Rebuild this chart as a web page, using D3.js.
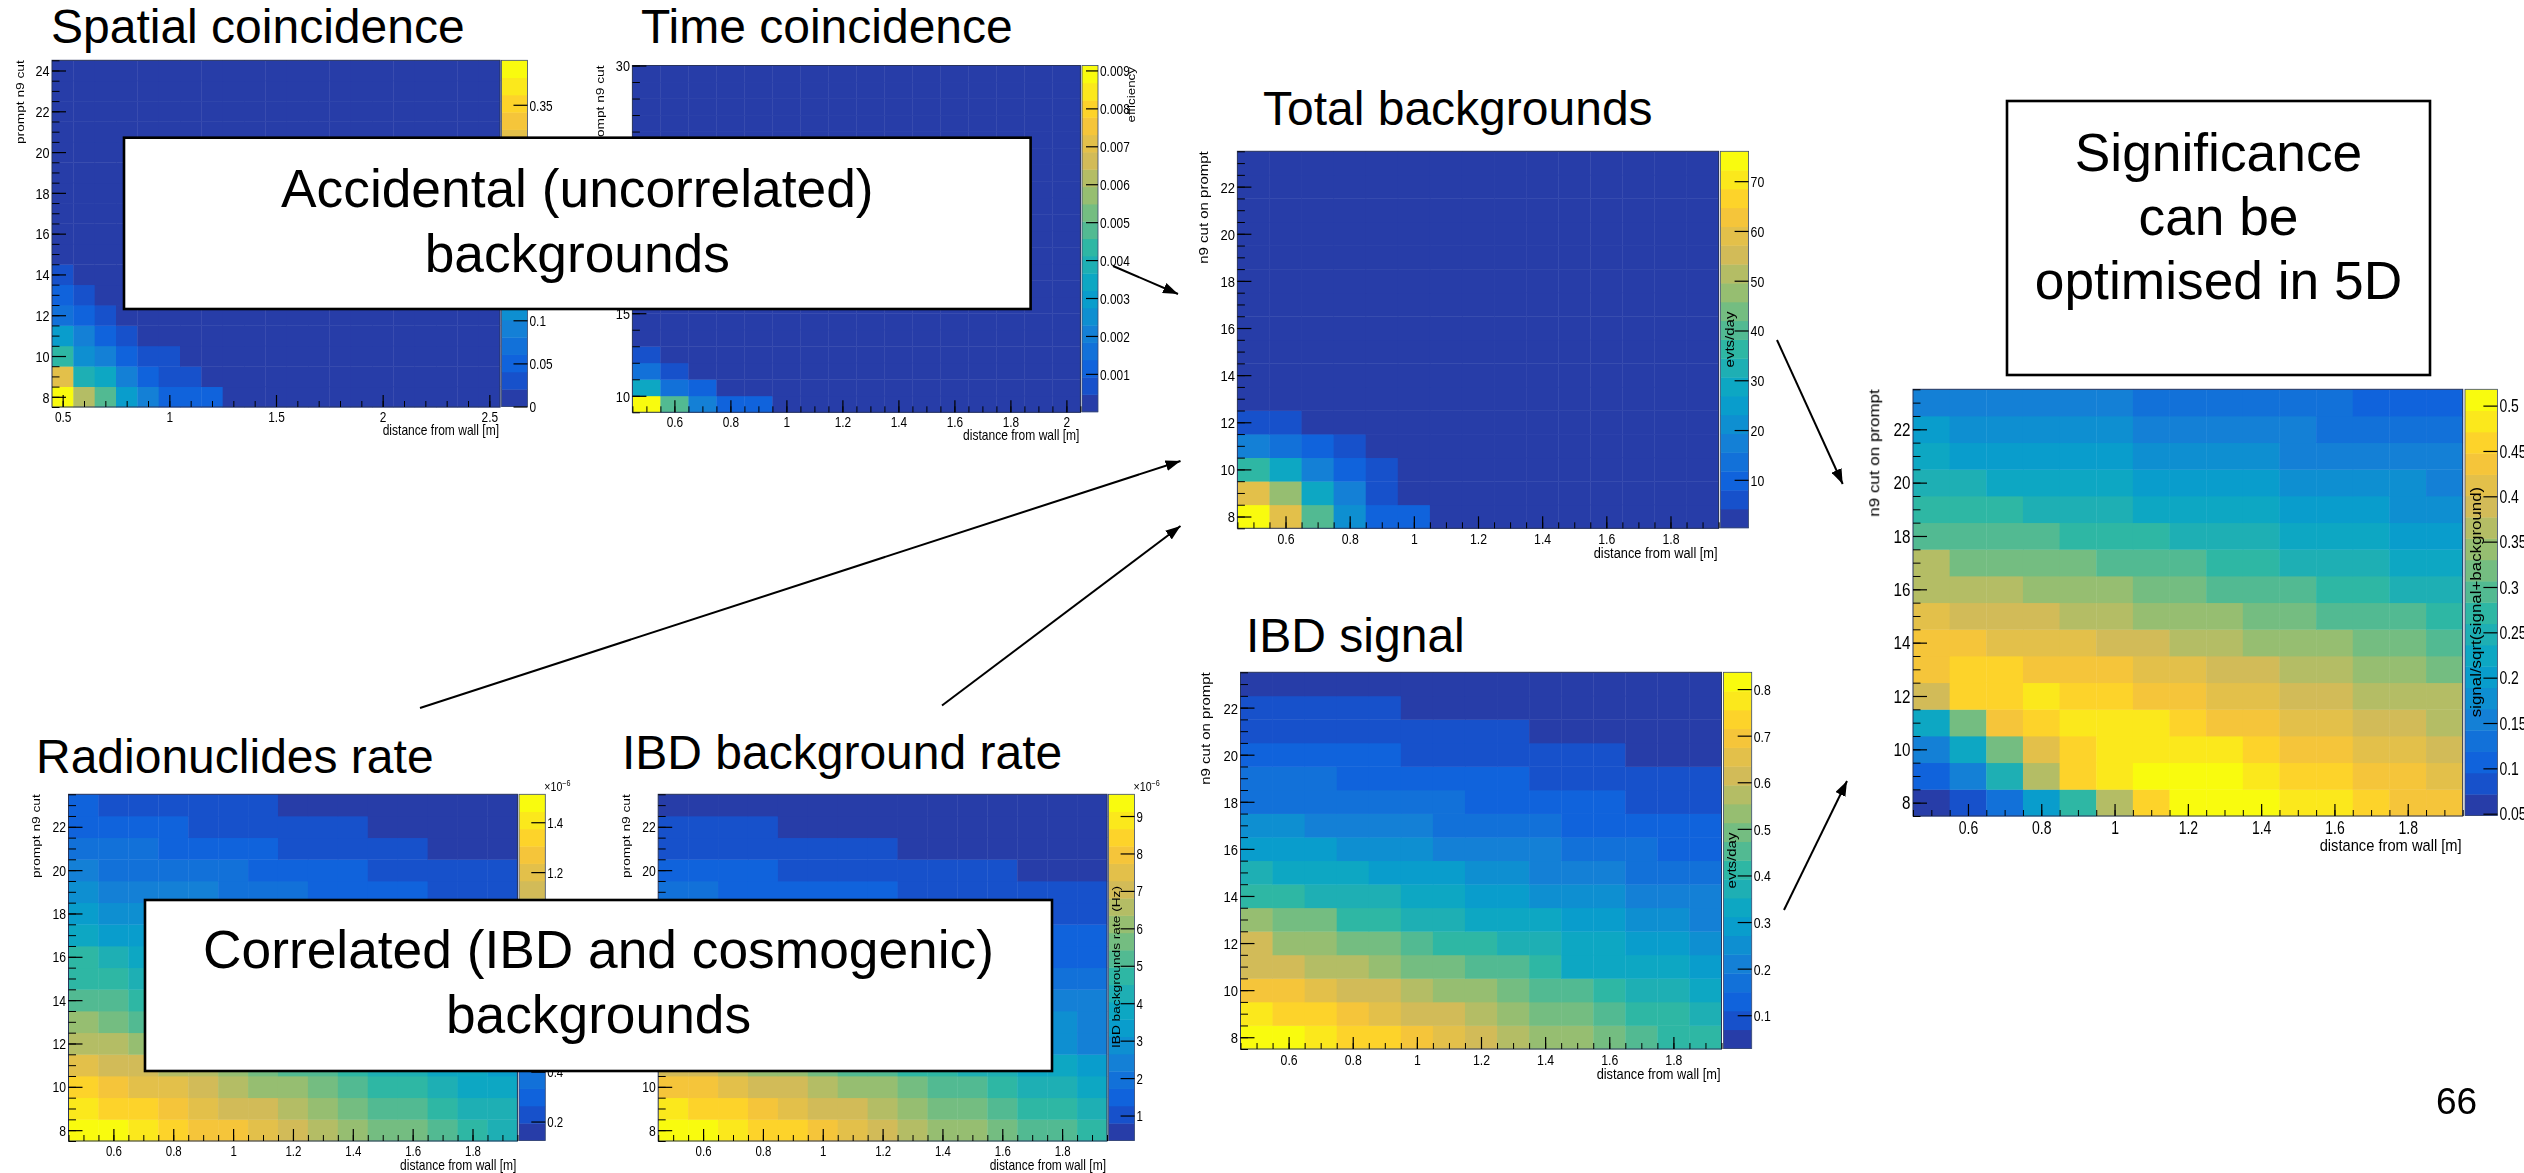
<!DOCTYPE html>
<html>
<head>
<meta charset="utf-8">
<script src="https://cdnjs.cloudflare.com/ajax/libs/d3/7.8.5/d3.min.js"></script>
<style>
html,body{margin:0;padding:0;background:#fff;overflow:hidden}
svg{display:block}
text{font-family:"Liberation Sans",Arial,sans-serif;fill:#000}
.panel{filter:blur(0.35px)}
</style>
</head>
<body>
<svg id="c" width="2524" height="1173"></svg>
<script>
// ---- bins -----
const xBins15 = [0.5,0.6,0.7,0.8,0.9,1.0,1.1,1.2,1.3,1.4,1.5,1.6,1.7,1.8,1.9];
const yBins16 = [8,9,10,11,12,13,14,15,16,17,18,19,20,21,22,23];
const xBinsSpatial = [0.5,0.6,0.7,0.8,0.9,1.0,1.1,1.2,1.3,1.4,1.5,1.6,1.7,1.8,1.9,2.0,2.1,2.2,2.3,2.4,2.5];
const yBinsSpatial = [8,9,10,11,12,13,14,15,16,17,18,19,20,21,22,23,24];
const xBinsTime = [0.5,0.6,0.7,0.8,0.9,1.0,1.1,1.2,1.3,1.4,1.5,1.6,1.7,1.8,1.9,2.0];
const yBinsTime = [9.5,10.5,11.5,12.5,13.5,14.5,15.5,16.5,17.5,18.5,19.5,20.5,21.5,22.5,23.5,24.5,25.5,26.5,27.5,28.5,29.5];

// ---- values: rows from lowest prompt cut upward; bins not listed are empty -----
const spatialValues = [
 [.39,.27,.21,.13,.09,.05,.05,.05],
 [.31,.17,.15,.09,.05,.03,.03],
 [.19,.11,.09,.05,.03,.03],
 [.13,.09,.05,.03],
 [.07,.05,.03],
 [.05,.03],
 [.03]
];
const timeValues = [
 [.0089,.0048,.00205,.00114,.00095],
 [.0034,.0016,.00095],
 [.0016,.0008],
 [.0007]
];
const totalValues = [
 [74.1,59,40,21.2,9.8,8],
 [59,47.6,28.7,17.4,6],
 [38,28.7,17.4,9.8,6],
 [17.4,13.6,9.8,6],
 [6,6]
];
const signalValues = [
 [.815,.815,.77,.73,.73,.69,.65,.61,.57,.53,.53,.49,.45,.41,.41],
 [.77,.73,.73,.69,.65,.61,.61,.57,.53,.49,.49,.45,.41,.41,.37],
 [.69,.69,.65,.61,.61,.57,.53,.53,.49,.45,.45,.41,.37,.37,.33],
 [.61,.61,.57,.57,.53,.49,.49,.45,.45,.41,.33,.33,.33,.33,.29],
 [.61,.53,.53,.49,.49,.45,.41,.41,.37,.37,.33,.33,.29,.29,.25],
 [.53,.49,.49,.41,.41,.37,.37,.33,.33,.33,.29,.29,.25,.25,.21],
 [.41,.41,.37,.37,.37,.33,.33,.29,.29,.25,.25,.25,.21,.21,.21],
 [.37,.33,.33,.33,.29,.29,.29,.25,.25,.21,.21,.21,.17,.17,.17],
 [.29,.29,.29,.25,.25,.25,.21,.21,.21,.21,.17,.17,.17,.13,.13],
 [.25,.25,.21,.21,.21,.21,.17,.17,.17,.17,.13,.13,.13,.13,.13],
 [.17,.17,.17,.17,.17,.17,.17,.13,.13,.13,.13,.13,.089,.089,.089],
 [.17,.17,.17,.13,.13,.13,.13,.13,.13,.089,.089,.089,.089,.089,.089],
 [.13,.13,.13,.13,.13,.089,.089,.089,.089,.089,.089,.089,.049,.049,.049],
 [.089,.089,.089,.089,.089,.089,.089,.089,.089,.049,.049,.049,.049,.049,.049],
 [.089,.089,.089,.089,.089,.049,.049,.049,.049,.049,.049,.049,.049,.049,.049],
 [.049,.049,.049,.049,.049,.049,.049,.049,.049,.049,.049,.049,.049,.049,.049]
];
const significanceValues = [
 [.06,.083,.13,.201,.271,.365,.459,.506,.506,.506,.483,.483,.459,.436,.436],
 [.107,.154,.248,.365,.459,.483,.506,.506,.506,.483,.459,.459,.436,.436,.412],
 [.154,.224,.318,.412,.459,.483,.483,.483,.483,.459,.436,.436,.412,.412,.389],
 [.224,.318,.436,.459,.483,.483,.483,.459,.436,.436,.412,.412,.389,.389,.365],
 [.389,.459,.459,.483,.459,.459,.436,.436,.412,.412,.389,.389,.365,.365,.365],
 [.436,.459,.459,.436,.436,.436,.412,.412,.389,.389,.365,.365,.342,.342,.318],
 [.436,.436,.412,.412,.412,.389,.389,.365,.365,.342,.342,.342,.318,.318,.295],
 [.412,.389,.389,.389,.365,.365,.342,.342,.342,.318,.318,.295,.295,.295,.271],
 [.365,.365,.365,.342,.342,.342,.318,.318,.295,.295,.295,.271,.271,.248,.248],
 [.365,.318,.318,.318,.318,.295,.295,.295,.271,.271,.248,.248,.248,.224,.224],
 [.295,.295,.295,.295,.271,.271,.271,.248,.248,.248,.224,.224,.224,.201,.201],
 [.271,.271,.271,.248,.248,.248,.224,.224,.224,.224,.201,.201,.201,.177,.177],
 [.248,.248,.224,.224,.224,.224,.201,.201,.201,.201,.177,.177,.177,.177,.154],
 [.224,.201,.201,.201,.201,.201,.177,.177,.177,.177,.154,.154,.154,.154,.154],
 [.201,.177,.177,.177,.177,.177,.154,.154,.154,.154,.154,.13,.13,.13,.13],
 [.154,.154,.154,.154,.154,.154,.13,.13,.13,.13,.13,.13,.107,.107,.107]
];
const radionuclideValues = [
 [1.48,1.48,1.41,1.34,1.27,1.27,1.2,1.13,1.06,.991,.922,.922,.853,.783,.714],
 [1.41,1.34,1.34,1.27,1.2,1.13,1.13,1.06,.991,.922,.853,.853,.783,.714,.714],
 [1.34,1.27,1.2,1.2,1.13,1.06,.991,.991,.922,.853,.783,.783,.714,.644,.644],
 [1.2,1.13,1.13,1.06,1.06,.991,.922,.853,.853,.783,.714,.714,.644,.644,.575],
 [1.06,1.06,.991,.922,.922,.853,.783,.783,.714,.714,.644,.644,.575,.575,.506],
 [.991,.922,.853,.853,.783,.783,.714,.714,.644,.644,.575,.575,.506,.506,.436],
 [.853,.853,.783,.783,.714,.714,.644,.644,.575,.575,.506,.506,.436,.436,.367],
 [.783,.783,.714,.714,.644,.644,.575,.575,.506,.506,.436,.436,.367,.367,.367],
 [.783,.714,.644,.644,.575,.575,.506,.506,.436,.436,.436,.367,.367,.367,.297],
 [.644,.575,.575,.506,.506,.506,.436,.436,.436,.367,.367,.367,.297,.297,.297],
 [.575,.506,.506,.436,.436,.436,.436,.367,.367,.367,.297,.297,.297,.297,.228],
 [.506,.436,.436,.436,.436,.367,.367,.367,.297,.297,.297,.297,.228,.228,.228],
 [.436,.367,.367,.367,.367,.367,.297,.297,.297,.297,.228,.228,.228,.228,.228],
 [.367,.367,.367,.297,.297,.297,.297,.228,.228,.228,.228,.228,.159,.159,.159],
 [.297,.297,.297,.297,.228,.228,.228,.228,.228,.228,.159,.159,.159,.159,.159],
 [.297,.228,.228,.228,.228,.228,.228,.159,.159,.159,.159,.159,.159,.159,.159]
];
const ibdBackgroundValues = [
 [9.35,9.35,8.89,8.43,8.43,7.96,7.5,7.04,6.58,6.11,6.11,5.65,5.19,5.19,4.73],
 [8.89,8.43,8.43,7.96,7.5,7.04,7.04,6.58,6.11,5.65,5.65,5.19,4.73,4.73,4.26],
 [7.96,7.96,7.5,7.04,7.04,6.58,6.11,6.11,5.65,5.19,5.19,4.73,4.26,4.26,3.8],
 [7.04,7.04,6.58,6.11,6.11,5.65,5.19,5.19,4.73,4.73,4.26,4.26,3.8,3.8,3.34],
 [6.11,6.11,5.65,5.19,5.19,4.73,4.73,4.26,4.26,3.8,3.8,3.34,3.34,2.88,2.41],
 [5.19,5.19,4.73,4.73,4.26,4.26,3.8,3.8,3.34,3.34,3.34,2.88,2.88,2.88,2.41],
 [4.26,4.26,3.8,3.8,3.34,3.34,3.34,2.88,2.88,2.88,2.41,2.41,2.41,2.41,2.41],
 [3.8,3.34,3.34,2.88,2.88,2.88,2.88,2.41,2.41,2.41,1.95,1.95,1.95,1.95,1.95],
 [2.88,2.88,2.88,2.41,2.41,2.41,2.41,1.95,1.95,1.95,1.95,1.95,1.49,1.49,1.49],
 [2.41,2.41,1.95,1.95,1.95,1.95,1.95,1.95,1.49,1.49,1.49,1.49,1.49,1.49,1.49],
 [1.95,1.95,1.95,1.49,1.49,1.49,1.49,1.49,1.03,1.03,1.03,1.03,1.03,1.03,1.03],
 [1.95,1.95,1.49,1.49,1.49,1.49,1.49,1.49,1.03,1.03,1.03,1.03,1.03,1.03,1.03],
 [1.49,1.49,1.49,1.49,1.03,1.03,1.03,1.03,1.03,1.03,1.03,1.03,.564,.564,.564],
 [1.03,1.03,1.03,1.03,1.03,1.03,1.03,1.03,.564,.564,.564,.564,.564,.564,.564],
 [1.03,1.03,1.03,1.03,.564,.564,.564,.564,.564,.564,.564,.564,.564,.564,.564],
 [.564,.564,.564,.564,.564,.564,.564,.564,.564,.564,.564,.564,.564,.564,.564]
];

// ---- tick labels (those a text box covers in the slide are left out) -----
const xTicks02 = [0.6,0.8,1,1.2,1.4,1.6,1.8];
const xTicksTime = [0.6,0.8,1,1.2,1.4,1.6,1.8,2];
const xTicksSpatial = [0.5,1,1.5,2,2.5];
const yTicksEven = [8,10,12,14,16,18,20,22];
const yTicksIbd = [8,10,20,22];
const yTicksSpatial = [8,10,12,14,16,18,20,22,24];
const yTicksTime = [10,15,30];
const zTicksSpatial = [0,.05,.1,.35];
const zTicksTime = [.001,.002,.003,.004,.005,.006,.007,.008,.009];
const zTicksTotal = [10,20,30,40,50,60,70];
const zTicksSignal = [.1,.2,.3,.4,.5,.6,.7,.8];
const zTicksSignificance = [.05,.1,.15,.2,.25,.3,.35,.4,.45,.5];
const zTicksRadio = [.2,.4,1.2,1.4];
const zTicksIbd = [1,2,3,4,5,6,7,8,9];

// ---- ROOT kBird palette, 20 contours -----
const birdStops = ["#352a87","#0f5cdd","#1481d6","#06a4ca","#2eb7a4","#87bf77","#d1bb59","#fec832","#f9fb0e"];
const bird = d3.scaleLinear().domain(d3.range(9).map(i=>i/8)).range(birdStops).interpolate(d3.interpolateRgb);
const bands = d3.range(20).map(i=>bird(Math.floor((i+0.99)*12.75)/254));

const svg = d3.select("#c");

function label(parent,x,y,str,size,sx,opts={}){
  const rot = opts.rotate?" rotate(-90)":"";
  return parent.append("text")
    .attr("transform",`translate(${x},${y}) scale(${sx},1)${rot}`)
    .attr("text-anchor",opts.anchor||"start")
    .attr("font-size",size)
    .text(str);
}

const panels = [
 {title:"Spatial coincidence",tx:51,ty:43,values:spatialValues,xb:xBinsSpatial,yb:yBinsSpatial,
  xd:[.45,2.55],yd:[7.5,24.5],L:52,R:500,T:60.3,B:407,bl:501.5,br:527.5,zd:[0,.4016],
  xt:xTicksSpatial,xm:.1,yt:yTicksSpatial,ym:.5,zt:zTicksSpatial,yTitle:"prompt n9 cut",yTx:18.6,yTs:13.7,
  fs:14.5,sx:.82,xOff:15,xTitleOff:28,xTitleSize:14,xTitleSx:.86},
 {title:"Time coincidence",tx:641,ty:43,values:timeValues,xb:xBinsTime,yb:yBinsTime,
  xd:[.45,2.05],yd:[9,30],L:632.4,R:1080.4,T:65.5,B:412.3,bl:1082,br:1098,zd:[0,.00913],
  xt:xTicksTime,xm:.05,yt:yTicksTime,ym:1,zt:zTicksTime,yTitle:"prompt n9 cut",yTx:599,yTs:13.7,
  fs:14.5,sx:.82,xOff:15,xTitleOff:28,xTitleSize:14,xTitleSx:.86,zTitle:"efficiency",zTx:1130,zTy:67,zTs:13.4,zAnchor:"end",barTick:12},
 {title:"Total backgrounds",tx:1263,ty:125,values:totalValues,xb:xBins15,yb:yBins16,
  xd:[.45,1.95],yd:[7.5,23.5],L:1237.4,R:1718.6,T:151.3,B:528.3,bl:1720.3,br:1748.6,zd:[.36,76],
  xt:xTicks02,xm:.05,yt:yTicksEven,ym:.5,zt:zTicksTotal,yTitle:"n9 cut on prompt",yTx:1202.5,yTs:15,
  fs:15,sx:.82,xOff:15.5,xTitleOff:30,xTitleSize:15,xTitleSx:.855,zTitle:"evts/day",zTx:1729,zTy:339.5,zTs:15,zAnchor:"middle"},
 {title:"IBD signal",tx:1246,ty:652,values:signalValues,xb:xBins15,yb:yBins16,
  xd:[.45,1.95],yd:[7.5,23.5],L:1240.5,R:1721.5,T:672.3,B:1049,bl:1723.4,br:1751.7,zd:[.0286,.836],
  xt:xTicks02,xm:.05,yt:yTicksEven,ym:.5,zt:zTicksSignal,yTitle:"n9 cut on prompt",yTx:1205,yTs:15,
  fs:15,sx:.82,xOff:15.5,xTitleOff:30,xTitleSize:15,xTitleSx:.855,zTitle:"evts/day",zTx:1731,zTy:860.5,zTs:15,zAnchor:"middle"},
 {title:"Radionuclides rate",tx:36,ty:773,values:radionuclideValues,xb:xBins15,yb:yBins16,
  xd:[.45,1.95],yd:[7.5,23.5],L:68.5,R:517.4,T:794.3,B:1141,bl:519,br:545.3,zd:[.124,1.512],
  xt:xTicks02,xm:.05,yt:yTicksEven,ym:.5,zt:zTicksRadio,yTitle:"prompt n9 cut",yTx:35,yTs:13.7,
  fs:14,sx:.82,xOff:14.5,xTitleOff:29,xTitleSize:14,xTitleSx:.86,power:true},
 {title:"IBD background rate",tx:622,ty:769,values:ibdBackgroundValues,xb:xBins15,yb:yBins16,
  xd:[.45,1.95],yd:[7.5,23.5],L:658.2,R:1107,T:794.3,B:1141,bl:1108.6,br:1134.6,zd:[.333,9.58],
  xt:xTicks02,xm:.05,yt:yTicksIbd,ym:.5,zt:zTicksIbd,yTitle:"prompt n9 cut",yTx:625,yTs:13.7,
  fs:14,sx:.82,xOff:14.5,xTitleOff:29,xTitleSize:14,xTitleSx:.86,power:true,
  zTitle:"IBD backgrounds rate (Hz)",zTx:1115.5,zTy:967,zTs:13.7,zAnchor:"middle"},
 {title:null,values:significanceValues,xb:xBins15,yb:yBins16,
  xd:[.45,1.95],yd:[7.5,23.5],L:1913,R:2462.7,T:389.3,B:816,bl:2465,br:2497.4,zd:[.048,.518],
  xt:xTicks02,xm:.05,yt:yTicksEven,ym:.5,zt:zTicksSignificance,yTitle:"n9 cut on prompt",yTx:1872.7,yTs:17,
  fs:17.5,sx:.8,xOff:18,xTitleOff:34.5,xTitleSize:17,xTitleSx:.865,
  zTitle:"signal/sqrt(signal+background)",zTx:2475,zTy:602,zTs:16.9,zAnchor:"middle"}
];

function styleTicks(sel,sw){
  sel.selectAll(".domain").remove();
  sel.selectAll("line").attr("stroke","#000").attr("stroke-width",sw);
}
function stepped(lo,hi,step){
  return d3.range(Math.ceil(lo/step-1e-6),Math.floor(hi/step+1e-6)+1).map(k=>+(k*step).toFixed(4));
}

panels.forEach(p=>{
  const g = svg.append("g").attr("class","panel");
  const x = d3.scaleLinear().domain(p.xd).range([p.L,p.R]);
  const y = d3.scaleLinear().domain(p.yd).range([p.B,p.T]);
  const z = d3.scaleQuantize().domain(p.zd).range(bands);
  const dx = .05, dy = .5;

  const cells=[];
  p.yb.forEach((yb,r)=>p.xb.forEach((xb,c)=>{
    const row=p.values[r]||[];
    cells.push({xb,yb,v:row[c]===undefined?p.zd[0]:row[c]});
  }));
  g.append("g").selectAll("rect").data(cells).join("rect")
    .attr("x",d=>x(d.xb-dx)).attr("width",d=>x(d.xb+dx)-x(d.xb-dx)+.4)
    .attr("y",d=>y(d.yb+dy)).attr("height",d=>y(d.yb-dy)-y(d.yb+dy)+.4)
    .attr("fill",d=>z(d.v));

  // colour bar
  const zs = d3.scaleLinear().domain(p.zd).range([p.B-0.5,p.T]);
  g.append("g").selectAll("rect").data(bands).join("rect")
    .attr("x",p.bl).attr("width",p.br-p.bl)
    .attr("y",c=>zs(z.invertExtent(c)[1])).attr("height",c=>zs(z.invertExtent(c)[0])-zs(z.invertExtent(c)[1])+.4)
    .attr("fill",c=>c);
  g.append("rect").attr("x",p.bl).attr("y",p.T).attr("width",p.br-p.bl).attr("height",p.B-.5-p.T)
    .attr("fill","none").attr("stroke","#3a4a70").attr("stroke-width",.8);
  const zg = g.append("g").attr("transform",`translate(${p.br},0)`)
    .call(d3.axisRight(zs).tickValues(p.zt).tickSizeInner(-(p.barTick||14)).tickSizeOuter(0).tickFormat(d=>String(d)));
  styleTicks(zg,1.2);
  zg.selectAll("text").attr("x",null).attr("dy",null).attr("y",null)
    .attr("transform",`translate(2,${p.fs*.36}) scale(${p.sx},1)`).attr("font-size",p.fs).attr("font-family",null);

  // frame
  g.append("rect").attr("x",p.L).attr("y",p.T).attr("width",p.R-p.L).attr("height",p.B-p.T)
    .attr("fill","none").attr("stroke","#28345c").attr("stroke-width",1);

  // x axis
  const xg2 = g.append("g").attr("transform",`translate(0,${p.B})`)
    .call(d3.axisBottom(x).tickValues(stepped(p.xd[0],p.xd[1],p.xm)).tickSizeInner(-6).tickSizeOuter(0).tickFormat(""));
  styleTicks(xg2,1);
  const xg = g.append("g").attr("transform",`translate(0,${p.B})`)
    .call(d3.axisBottom(x).tickValues(p.xt).tickSizeInner(-12).tickSizeOuter(0).tickFormat(d=>String(d)));
  styleTicks(xg,1.2);
  xg.selectAll("text").attr("y",null).attr("dy",null)
    .attr("transform",`translate(0,${p.xOff}) scale(${p.sx},1)`).attr("font-size",p.fs);
  label(g,p.R-1,p.B+p.xTitleOff,"distance from wall [m]",p.xTitleSize,p.xTitleSx,{anchor:"end"});

  // y axis
  const yg2 = g.append("g").attr("transform",`translate(${p.L},0)`)
    .call(d3.axisLeft(y).tickValues(stepped(p.yd[0],p.yd[1],p.ym)).tickSizeInner(-7.5).tickSizeOuter(0).tickFormat(""));
  styleTicks(yg2,1);
  const yg = g.append("g").attr("transform",`translate(${p.L},0)`)
    .call(d3.axisLeft(y).tickValues(p.yt).tickSizeInner(-14).tickSizeOuter(0).tickFormat(d=>String(d)));
  styleTicks(yg,1.2);
  yg.selectAll("text").attr("x",null).attr("dy",null)
    .attr("text-anchor","end")
    .attr("transform",`translate(-2.5,${p.fs*.36}) scale(.87,1)`).attr("font-size",p.fs);
  label(g,p.yTx+p.yTs*.36,p.T,p.yTitle,p.yTs,.85,{anchor:"end",rotate:true});

  if(p.zTitle) label(g,p.zTx+p.zTs*.36,p.zTy,p.zTitle,p.zTs,.85,{anchor:p.zAnchor,rotate:true});
  if(p.power){
    const pw=g.append("text").attr("transform",`translate(${p.br-1},${p.T-3}) scale(.85,1)`).attr("font-size",12.5);
    pw.append("tspan").text("\u00d710");
    pw.append("tspan").attr("dy",-5).attr("font-size",8.5).text("\u22126");
  }
  if(p.title) svg.append("text").attr("x",p.tx).attr("y",p.ty).attr("font-size",48).text(p.title);
});

// ---- text boxes -----
const boxes=[
 {x:124,y:137.7,w:906.6,h:171.3,lines:["Accidental (uncorrelated)","backgrounds"],base:[206.5,272]},
 {x:145,y:900,w:907,h:171,lines:["Correlated (IBD and cosmogenic)","backgrounds"],base:[968,1033]},
 {x:2007,y:101,w:423,h:274,lines:["Significance","can be","optimised in 5D"],base:[170.5,234.5,298.5]}
];
boxes.forEach(b=>{
  svg.append("rect").attr("x",b.x).attr("y",b.y).attr("width",b.w).attr("height",b.h)
    .attr("fill","#fff").attr("stroke","#000").attr("stroke-width",2.6);
  b.lines.forEach((t,i)=>svg.append("text").attr("x",b.x+b.w/2).attr("y",b.base[i])
    .attr("text-anchor","middle").attr("font-size",53.3).text(t));
});

// ---- arrows -----
const arrows=[[1113,266,1178,294],[420,708,1180.5,461],[942,705.5,1180.5,526],[1777,340,1842.7,484],[1784,910,1847,781]];
svg.append("defs").append("marker").attr("id","ah").attr("viewBox","0 0 10 10").attr("refX",10).attr("refY",5)
  .attr("markerUnits","userSpaceOnUse").attr("markerWidth",15).attr("markerHeight",11).attr("orient","auto")
  .attr("preserveAspectRatio","none")
  .append("path").attr("d","M0,0L10,5L0,10Z").attr("fill","#000");
svg.append("g").selectAll("line").data(arrows).join("line")
  .attr("x1",d=>d[0]).attr("y1",d=>d[1]).attr("x2",d=>d[2]).attr("y2",d=>d[3])
  .attr("stroke","#000").attr("stroke-width",2).attr("marker-end","url(#ah)");

svg.append("text").attr("x",2456.5).attr("y",1114).attr("text-anchor","middle").attr("font-size",37).text("66");
</script>
</body>
</html>
